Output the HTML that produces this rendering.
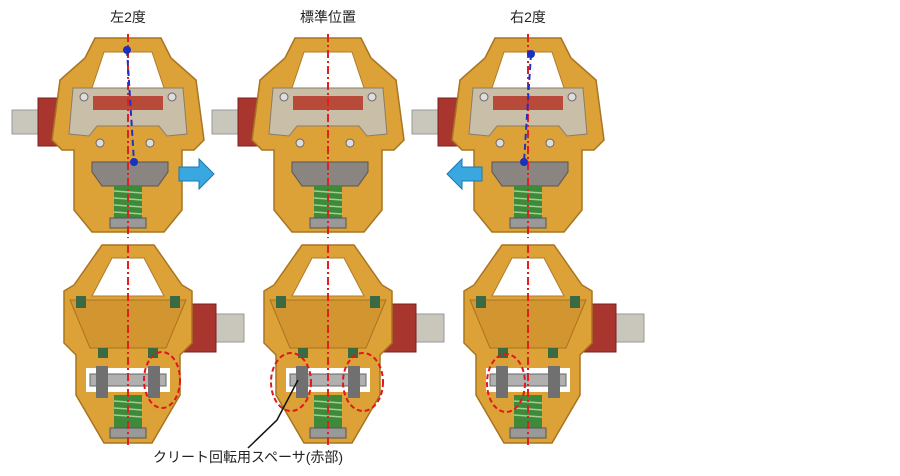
<!DOCTYPE html>
<html><head><meta charset="utf-8"><style>
html,body{margin:0;padding:0;background:#fff;width:900px;height:476px;overflow:hidden}
svg text{font-family:"Liberation Sans","Noto Sans CJK JP",sans-serif;font-size:14px;fill:#222}
</style></head><body>
<svg width="900" height="476" viewBox="0 0 900 476" xmlns="http://www.w3.org/2000/svg">
<defs>
<g id="top">
  <rect x="-116" y="110" width="30" height="24" fill="#c9c6bb" stroke="#999"/>
  <path d="M-90 98 h28 v48 h-28 z" fill="#a8362e" stroke="#7a2020"/>
  <path d="M-33 38 h66 l10 20 l25 22 l8 60 l-10 10 l-12 0 l0 60 l-18 22 h-72 l-18 -22 l0 -60 l-12 0 l-10 -10 l8 -60 l25 -22 z" fill="#dca238" stroke="#a87420" stroke-width="1.5"/>
  <path d="M-24 52 h48 l14 42 h-76 z" fill="#fff" stroke="#b07a28"/>
  <path d="M-55 88 h110 l4 46 l-20 2 l-8 -10 h-62 l-8 10 l-20 -2 z" fill="#c9bfa8" stroke="#8a7d68"/>
  <rect x="-35" y="96" width="70" height="14" fill="#b84a3a"/>
  <circle cx="-44" cy="97" r="4" fill="#ddd" stroke="#666"/><circle cx="44" cy="97" r="4" fill="#ddd" stroke="#666"/>
  <circle cx="-28" cy="143" r="4" fill="#ddd" stroke="#666"/><circle cx="22" cy="143" r="4" fill="#ddd" stroke="#666"/>
  <path d="M-36 162 h76 v10 l-10 14 h-56 l-10 -14 z" fill="#8a8580" stroke="#555"/>
  <rect x="-14" y="186" width="28" height="36" fill="#3f8a3a"/>
  <g stroke="#9fd090" stroke-width="1.5"><line x1="-14" y1="191" x2="14" y2="193"/><line x1="-14" y1="198" x2="14" y2="200"/><line x1="-14" y1="205" x2="14" y2="207"/><line x1="-14" y1="212" x2="14" y2="214"/></g>
  <rect x="-18" y="218" width="36" height="10" fill="#999" stroke="#555"/>
  <line x1="0" y1="34" x2="0" y2="238" stroke="#e02020" stroke-width="2" stroke-dasharray="8,3,2,3"/>
</g>
<g id="bot">
  <rect x="88" y="314" width="28" height="28" fill="#c9c6bb" stroke="#999"/>
  <path d="M54 304 h34 v48 h-34 z" fill="#a8362e" stroke="#7a2020"/>
  <path d="M-26 245 h52 l28 40 l10 6 v52 l-12 12 v40 l-28 48 h-48 l-28 -48 v-40 l-12 -12 v-52 l10 -6 z" fill="#dca238" stroke="#a87420" stroke-width="1.5"/>
  <path d="M-16 258 h32 l20 38 h-72 z" fill="#fff" stroke="#b07a28"/>
  <path d="M-58 300 h116 l-20 48 h-76 z" fill="#d39530" stroke="#a87420"/>
  <rect x="-52" y="296" width="10" height="12" fill="#3a6a44"/><rect x="42" y="296" width="10" height="12" fill="#3a6a44"/>
  <rect x="-30" y="348" width="10" height="10" fill="#3a6a44"/><rect x="20" y="348" width="10" height="10" fill="#3a6a44"/>
  <rect x="-42" y="368" width="84" height="24" fill="#fff"/>
  <rect x="-38" y="374" width="76" height="12" fill="#b0b0b0" stroke="#666"/>
  <rect x="-32" y="366" width="12" height="32" fill="#707070"/><rect x="20" y="366" width="12" height="32" fill="#707070"/>
  <rect x="-14" y="395" width="28" height="34" fill="#3f8a3a"/>
  <g stroke="#9fd090" stroke-width="1.5"><line x1="-14" y1="401" x2="14" y2="403"/><line x1="-14" y1="408" x2="14" y2="410"/><line x1="-14" y1="415" x2="14" y2="417"/></g>
  <rect x="-18" y="428" width="36" height="10" fill="#999" stroke="#555"/>
  <line x1="0" y1="245" x2="0" y2="445" stroke="#e02020" stroke-width="2" stroke-dasharray="8,3,2,3"/>
</g>
</defs>
<text x="128" y="22" text-anchor="middle">左2度</text>
<text x="328" y="22" text-anchor="middle">標準位置</text>
<text x="528" y="22" text-anchor="middle">右2度</text>
<use href="#top" x="128"/><use href="#top" x="328"/><use href="#top" x="528"/>
<use href="#bot" x="128"/><use href="#bot" x="328"/><use href="#bot" x="528"/>
<line x1="127" y1="50" x2="134" y2="162" stroke="#2030c0" stroke-width="2" stroke-dasharray="6,4"/>
<circle cx="127" cy="50" r="4" fill="#1a30c0"/><circle cx="134" cy="162" r="4" fill="#1a30c0"/>
<line x1="531" y1="54" x2="524" y2="162" stroke="#2030c0" stroke-width="2" stroke-dasharray="6,4"/>
<circle cx="531" cy="54" r="4" fill="#1a30c0"/><circle cx="524" cy="162" r="4" fill="#1a30c0"/>
<path d="M179 167 h20 v-8 l15 15 l-15 15 v-8 h-20 z" fill="#3aa8e0" stroke="#1a78b0"/>
<path d="M482 167 h-20 v-8 l-15 15 l15 15 v-8 h20 z" fill="#3aa8e0" stroke="#1a78b0"/>
<g fill="none" stroke="#e01818" stroke-width="2" stroke-dasharray="5,3">
<ellipse cx="162" cy="380" rx="18" ry="28"/>
<ellipse cx="291" cy="382" rx="20" ry="29"/>
<ellipse cx="363" cy="382" rx="20" ry="29"/>
<ellipse cx="506" cy="383" rx="19" ry="29"/>
</g>
<polyline points="248,448 277,420 298,380" fill="none" stroke="#111" stroke-width="1.5"/>
<text x="153" y="462">クリート回転用スペーサ(赤部)</text>
</svg>
</body></html>
